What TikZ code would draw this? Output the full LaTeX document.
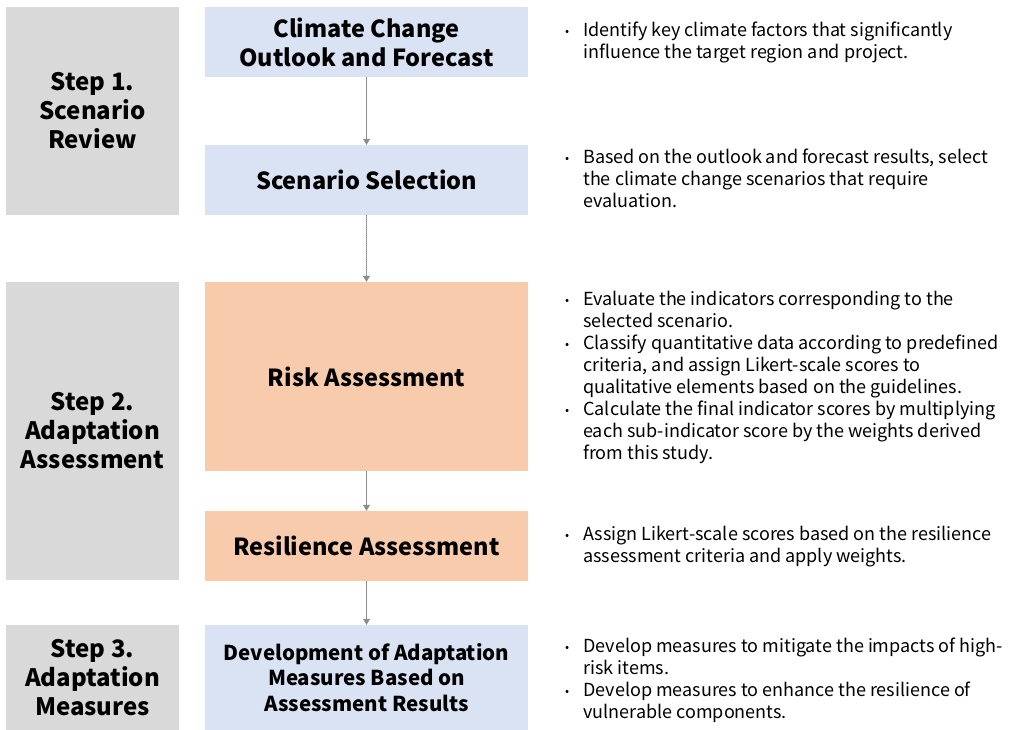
\documentclass[tikz,border=0pt]{standalone}
\usepackage{fontspec}
\setmainfont{Noto Sans CJK KR}
\usetikzlibrary{arrows.meta}
\definecolor{stepgray}{HTML}{D9D9D9}
\definecolor{boxblue}{HTML}{DAE3F3}
\definecolor{boxorange}{HTML}{F8CBAD}
\definecolor{arrowgray}{HTML}{8C8C8C}
\tikzset{
	stepbox/.style={fill=stepgray,minimum width=173pt,align=center,font=\fontsize{24}{29}\selectfont\bfseries},
	bluebox/.style={fill=boxblue,minimum width=323pt,align=center,font=\fontsize{23.5}{29}\selectfont\bfseries},
	orangebox/.style={fill=boxorange,minimum width=323pt,align=center,font=\fontsize{23.5}{29}\selectfont\bfseries},
	notes/.style={anchor=north west,inner sep=0pt,font=\fontsize{18}{22}\selectfont},
	flow/.style={->,draw=arrowgray,line width=.8pt}
}
\newcommand{\pt}{\fontsize{12}{22}\selectfont\raisebox{1pt}{•}}
\begin{document}
\begin{tikzpicture}[line cap=round,line join=round,>={Triangle[length=6pt,width=7pt]},x=1pt,y=-1pt]
		\useasboundingbox (0,0) rectangle (1009,730);
		\fill[white] (0,0) rectangle (1009,730);
		% steps on the left
		\node[stepbox,minimum height=208pt] (step1) at (92.5,111) {Step 1.\\Scenario\\Review};
		\node[stepbox,minimum height=298pt] (step2) at (92.5,431) {Step 2.\\Adaptation\\Assessment};
		\node[stepbox,minimum height=105pt] (step3) at (92.5,677.5) {Step 3.\\Adaptation\\Measures};
		% flow boxes
		\node[bluebox,minimum height=70pt] (outlook) at (366.5,42) {Climate Change\\Outlook and Forecast};
		\node[bluebox,minimum height=70pt] (select) at (366.5,180) {Scenario Selection};
		\node[orangebox,minimum height=189pt] (risk) at (366.5,376.5) {Risk Assessment};
		\node[orangebox,minimum height=70pt] (resil) at (366.5,546) {Resilience Assessment};
		\node[bluebox,minimum height=105pt,font=\fontsize{20.5}{25.5}\selectfont\bfseries] (measures) at (366.5,677.5) {Development of Adaptation\\Measures Based on\\Assessment Results};
		\draw[flow] (outlook) -- (select);
		\draw[flow,dash pattern=on 1pt off 1pt] (select) -- (risk);
		\draw[flow] (risk) -- (resil);
		\draw[flow] (resil) -- (measures);
		% notes on the right
		\node[notes] (n1) at (565,21) {\begin{tabular}{@{}l@{\hspace{14pt}}l@{}}
			\pt & Identify key climate factors that significantly\\
			& influence the target region and project.
		\end{tabular}};
		\node[notes] (n2) at (565,148) {\begin{tabular}{@{}l@{\hspace{14pt}}l@{}}
			\pt & Based on the outlook and forecast results, select\\
			& the climate change scenarios that require\\
			& evaluation.
		\end{tabular}};
		\node[notes] (n3) at (565,290) {\begin{tabular}{@{}l@{\hspace{14pt}}l@{}}
			\pt & Evaluate the indicators corresponding to the\\
			& selected scenario.\\
			\pt & Classify quantitative data according to predefined\\
			& criteria, and assign Likert-scale scores to\\
			& qualitative elements based on the guidelines.\\
			\pt & Calculate the final indicator scores by multiplying\\
			& each sub-indicator score by the weights derived\\
			& from this study.
		\end{tabular}};
		\node[notes] (n4) at (565,525) {\begin{tabular}{@{}l@{\hspace{14pt}}l@{}}
			\pt & Assign Likert-scale scores based on the resilience\\
			& assessment criteria and apply weights.
		\end{tabular}};
		\node[notes] (n5) at (565,637) {\begin{tabular}{@{}l@{\hspace{14pt}}l@{}}
			\pt & Develop measures to mitigate the impacts of high-\\
			& risk items.\\
			\pt & Develop measures to enhance the resilience of\\
			& vulnerable components.
		\end{tabular}};
	\end{tikzpicture}
\end{document}
